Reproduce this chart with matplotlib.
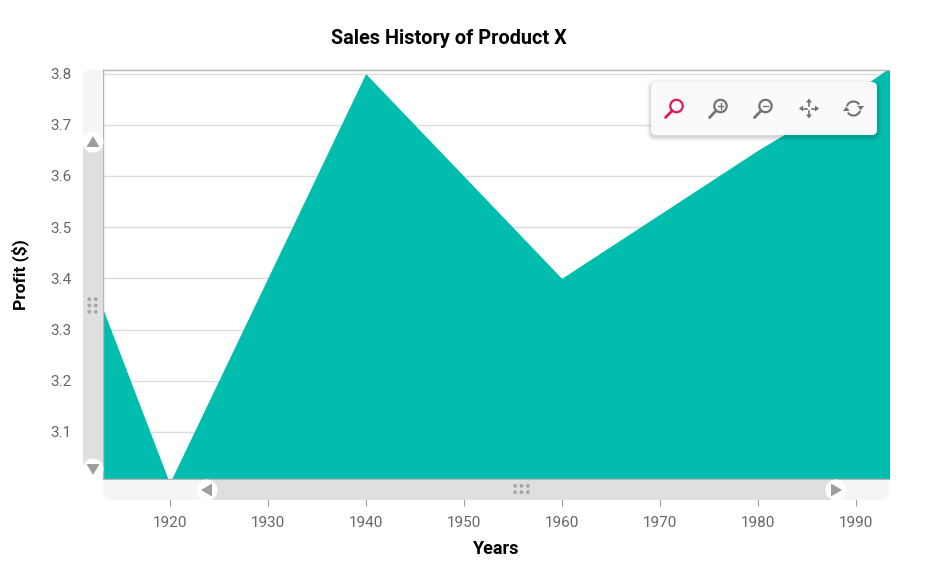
import matplotlib
matplotlib.use('Agg')
import matplotlib.pyplot as plt
from matplotlib.patches import FancyBboxPatch, Circle, Polygon, Rectangle, Arc

plt.rcParams['font.family'] = ['Roboto', 'DejaVu Sans']

years = [1910, 1920, 1930, 1940, 1950, 1960, 1970, 1980, 1990, 2000]
profit = [3.5, 3.0, 3.4, 3.8, 3.6, 3.4, 3.525, 3.65, 3.765, 3.9]
x_ticks = [1920, 1930, 1940, 1950, 1960, 1970, 1980, 1990]
y_ticks = [3.1, 3.2, 3.3, 3.4, 3.5, 3.6, 3.7, 3.8]

W, H = 930, 573
fig = plt.figure(figsize=(W / 100, H / 100), dpi=100, facecolor='white')

# plot area in pixels: x 103-889, y 70-479
ax = fig.add_axes([103 / W, 1 - 479 / H, (888.5 - 103) / W, (479 - 70) / H])
ax.fill_between(years, profit, 2.9, color='#00bdae', lw=0, zorder=3)
ax.set_xlim(1913.2, 1993.35)
ax.set_ylim(3.008, 3.807)
ax.set_xticks(x_ticks)
ax.set_yticks(y_ticks)
ax.grid(axis='y', color='#dcdcdc', lw=1, zorder=1)
ax.tick_params(axis='x', length=19.5, width=0.8, color='#9e9e9e', labelcolor='#666666',
               labelsize=11, pad=7)
ax.tick_params(axis='y', length=0, labelcolor='#666666', labelsize=11, pad=22.5)
ax.spines['right'].set_visible(False)
for s in ['top', 'left', 'bottom']:
    ax.spines[s].set_color('#b5b5b5')
    ax.spines[s].set_linewidth(1)
    ax.spines[s].set_zorder(4)
ax.set_axisbelow(True)

# everything else is positioned in pixels
ui = fig.add_axes([0, 0, 1, 1], facecolor='none')
ui.set_xlim(0, W)
ui.set_ylim(H, 0)
ui.axis('off')

ui.text(449, 38.5, 'Sales History of Product X', ha='center', va='center', fontsize=14.35,
        fontweight='bold', color='black')
ui.text(496.5, 549, 'Years', ha='center', va='center', fontsize=13, fontweight='bold', color='black')
ui.text(20.5, 274.5, 'Profit ($)', ha='center', va='center', rotation=90, fontsize=12.5,
        fontweight='bold', color='black')


def rbox(x0, y0, x1, y1, r, **kw):
    p = FancyBboxPatch((x0 + r, y0 + r), x1 - x0 - 2 * r, y1 - y0 - 2 * r,
                       boxstyle=f'round,pad={r},rounding_size={r}', **kw)
    ui.add_patch(p)
    return p


def handle(cx, cy, pts):
    ui.add_patch(Circle((cx, cy), 10.5, fc='white', ec='none', zorder=6))
    ui.add_patch(Polygon([(cx + a, cy + b) for a, b in pts], fc='#9e9e9e', ec='none', zorder=7))


def dots(cx, cy, xs, ys):
    for a in xs:
        for b in ys:
            ui.add_patch(Circle((cx + a, cy + b), 1.9, fc='#a6a6a6', ec='none', zorder=7))


# vertical scrollbar
rbox(83, 69.5, 103, 478, 8, fc='#f5f5f5', ec='none', zorder=2)
ui.add_patch(Rectangle((83, 142), 20, 327, fc='#dfdfdf', ec='none', zorder=3))
handle(93, 142, [(0, -6), (-6.5, 5), (6.5, 5)])
handle(93, 469, [(0, 6), (-6.5, -5), (6.5, -5)])
dots(92.5, 305.5, [-3.2, 3.2], [-6.3, 0, 6.3])

# horizontal scrollbar
rbox(103, 480, 889, 500, 8, fc='#f5f5f5', ec='none', zorder=2)
ui.add_patch(Rectangle((207, 480), 629, 20, fc='#dfdfdf', ec='none', zorder=3))
handle(207, 490, [(-6, 0), (5, -6.5), (5, 6.5)])
handle(836, 490, [(6, 0), (-5, -6.5), (-5, 6.5)])
dots(521.5, 489, [-6.3, 0, 6.3], [-3.2, 3.2])

# zoom toolbar
for i, a in enumerate([0.015, 0.02, 0.03, 0.04, 0.05]):
    g = 5 - i
    rbox(651 - g, 82 - g + 2, 877 + g, 135 + g + 2, 5 + g, fc='black', alpha=a, ec='none', zorder=8)
rbox(651, 82, 877, 135, 5, fc='#fafafa', ec='none', zorder=9)


def magnifier(cx, color, sign=None):
    ui.add_patch(Circle((cx + 2.5, 106), 6.2, fc='none', ec=color, lw=1.6, zorder=10))
    ui.plot([cx - 8.5, cx - 1.9], [117.5, 110.7], color=color, lw=2, solid_capstyle='round', zorder=10)
    if sign:
        ui.plot([cx - 0.2, cx + 5.2], [106, 106], color=color, lw=1, zorder=10)
    if sign == '+':
        ui.plot([cx + 2.5, cx + 2.5], [103.3, 108.7], color=color, lw=1, zorder=10)


magnifier(674, '#e3165b')
magnifier(718, '#737373', '+')
magnifier(763, '#737373', '-')

# pan icon
mx, my = 809, 108.5
for dx, dy in [(1, 0), (-1, 0), (0, 1), (0, -1)]:
    ui.plot([mx + dx * 2.5, mx + dx * 7], [my + dy * 2.5, my + dy * 7], color='#737373', lw=1.2, zorder=10)
    tip = (mx + dx * 10, my + dy * 10)
    base = [(mx + dx * 6 - dy * 3, my + dy * 6 + dx * 3), (mx + dx * 6 + dy * 3, my + dy * 6 - dx * 3)]
    ui.add_patch(Polygon([tip] + base, fc='#737373', ec='none', zorder=10))

# reset icon
rx, ry = 853.5, 108.5
ui.add_patch(Arc((rx, ry), 14, 14, theta1=200, theta2=325, color='#737373', lw=1.5, zorder=10))
ui.add_patch(Arc((rx, ry), 14, 14, theta1=20, theta2=145, color='#737373', lw=1.5, zorder=10))
ui.add_patch(Polygon([(rx + 4, ry - 2.5), (rx + 10.5, ry - 2.5), (rx + 7.2, ry + 2)], fc='#737373', ec='none', zorder=10))
ui.add_patch(Polygon([(rx - 10.5, ry + 2.5), (rx - 4, ry + 2.5), (rx - 7.2, ry - 2)], fc='#737373', ec='none', zorder=10))

fig.savefig('out.png', dpi=100)
